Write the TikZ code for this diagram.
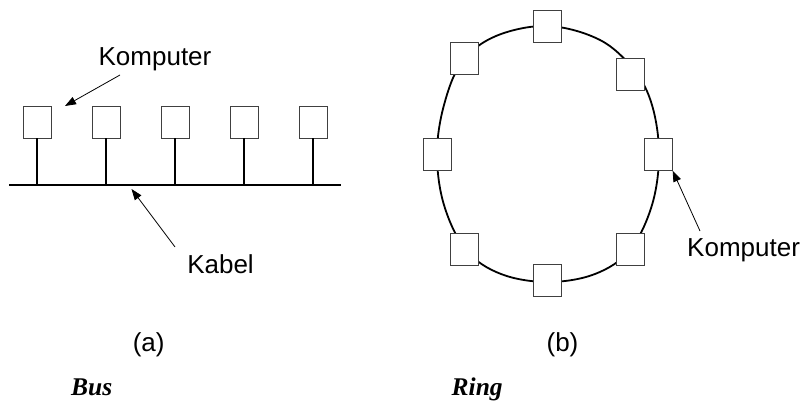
\documentclass[tikz,border=0pt]{standalone}
\usepackage{fontspec}
\setmainfont{Liberation Sans}
\newfontfamily\capfont{Liberation Serif}
\usetikzlibrary{arrows.meta}
\begin{document}
\begin{tikzpicture}[x=1pt,y=-1pt,
  station/.style={draw=black!75,line width=0.9pt,fill=white,minimum width=28pt,minimum height=32pt,inner sep=0pt},
  wire/.style={line width=1.8pt,black},
  pointer/.style={line width=0.8pt,-{Triangle[length=11pt,width=8pt]}},
  lbl/.style={font=\fontsize{26}{30}\selectfont,inner sep=0pt},
  captext/.style={font=\capfont\bfseries\itshape\fontsize{25.5}{30}\selectfont,inner sep=0pt,anchor=base west}]
\useasboundingbox (0,0) rectangle (803,401);

% bus topology: backbone cable with five stations
\coordinate (busL) at (9,185);
\coordinate (busR) at (341,185);
\draw[wire] (busL) -- (busR);
\foreach \i in {0,...,4}{
  \node[station] (b\i) at ({37+69*\i},122) {};
  \draw[wire] (b\i.south) -- ({37+69*\i},185);
}
\node[lbl] (kompA) at (155,59) {Komputer};
\coordinate (kompAtail) at (120,75);
\coordinate (kompAtip) at (65,106);
\draw[pointer] (kompAtail) -- (kompAtip);
\node[lbl] (kabel) at (220.5,264) {Kabel};
\coordinate (kabelTail) at (175,247);
\coordinate (kabelTip) at (131.5,189);
\draw[pointer] (kabelTail) -- (kabelTip);

% ring topology: closed cable through eight stations
\draw[wire] plot[smooth cycle,tension=0.6] coordinates {
  (548,26) (600,40) (634,70) (652,105) (659,154) (652,205) (630,250)
  (595,274) (548,282) (501,274) (466,250) (444,205) (437,154) (444,105)
  (462,62) (496,36)};
\node[station] (r1) at (547.5,26.7) {};
\node[station] (r2) at (630.3,74.2) {};
\node[station] (r3) at (658.2,154.2) {};
\node[station] (r4) at (630.3,249.2) {};
\node[station] (r5) at (547.5,280.8) {};
\node[station] (r6) at (464.8,249.2) {};
\node[station] (r7) at (437.2,154.2) {};
\node[station] (r8) at (464.8,58.3) {};
\node[lbl,anchor=west] (kompB) at (687,250) {Komputer};
\coordinate (kompBtail) at (700,231);
\draw[pointer] (kompBtail) -- (r3.south east);

% captions
\node[lbl] (capA) at (148.7,345) {(a)};
\node[lbl] (capB) at (562.5,345) {(b)};
\node[captext] (busT) at (71,395) {Bus};
\node[captext] (ringT) at (451.5,395) {Ring};
\end{tikzpicture}
\end{document}
